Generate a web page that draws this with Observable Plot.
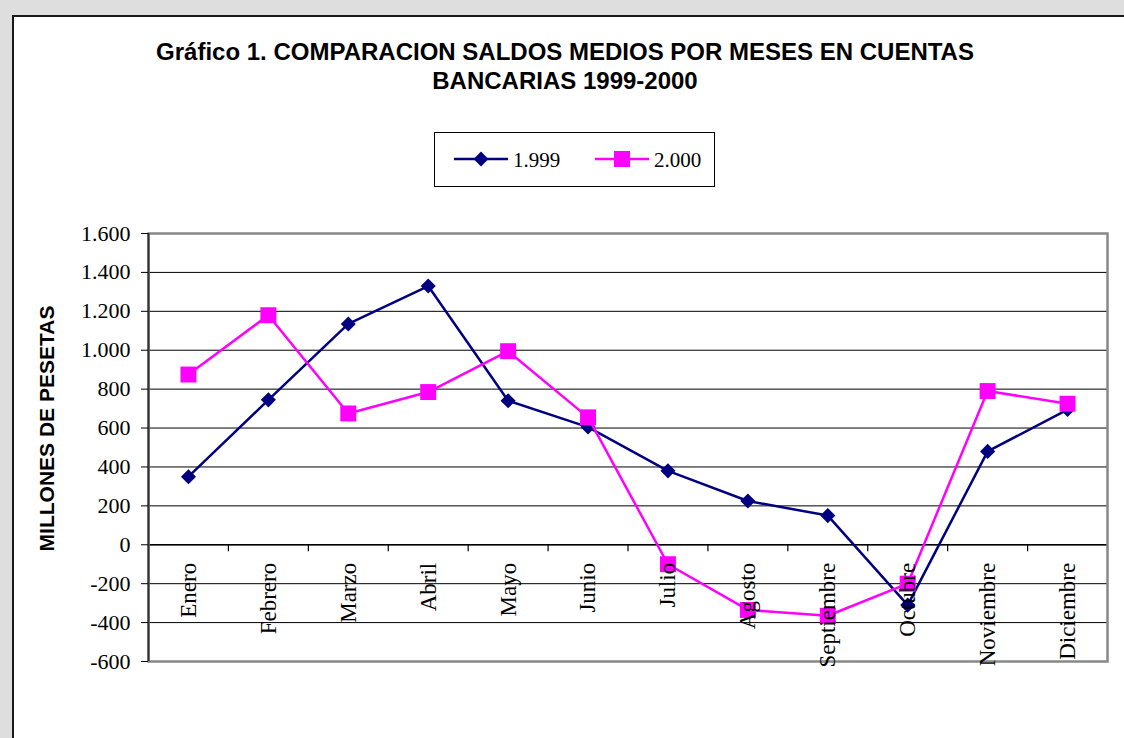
<!DOCTYPE html>
<html>
<head>
<meta charset="utf-8">
<script src="https://cdn.jsdelivr.net/npm/d3@7"></script>
<script src="https://cdn.jsdelivr.net/npm/@observablehq/plot@0.6"></script>
<style>
  html, body { margin: 0; padding: 0; width: 1124px; height: 738px; overflow: hidden; background: #dedede; }
  #frame { position: absolute; left: 12px; top: 15px; right: 0; bottom: 0; background: #fff;
           border-left: 2px solid #1a1a1a; border-top: 2px solid #1a1a1a; }
  #title { position: absolute; left: 0; width: 1130px; top: 37px; text-align: center;
           font-family: "Liberation Sans", Arial, sans-serif; font-weight: bold; font-size: 24px; line-height: 29px; color: #000; }
  #legend { position: absolute; left: 434px; top: 132px; width: 279px; height: 53px; border: 1px solid #000; background: #fff; }
  #legend svg { position: absolute; left: 0; top: 0; }
  #chart { position: absolute; left: 0; top: 200px; }
</style>
</head>
<body>
<div id="frame"></div>
<div id="title">Gráfico 1. COMPARACION SALDOS MEDIOS POR MESES EN CUENTAS<br>BANCARIAS 1999-2000</div>
<div id="legend"></div>
<div id="chart"></div>
<script>
// ---- data ----
const months = ["Enero","Febrero","Marzo","Abril","Mayo","Junio","Julio","Agosto","Septiembre","Octubre","Noviembre","Diciembre"];
const values1999 = [350, 745, 1135, 1330, 740, 605, 380, 225, 150, -310, 480, 695];
const values2000 = [875, 1180, 675, 785, 995, 655, -100, -335, -365, -200, 790, 725];
const seriesNames = ["1.999", "2.000"];
const seriesColors = ["#000080", "#ff00ff"];
const yTicks = [-600, -400, -200, 0, 200, 400, 600, 800, 1000, 1200, 1400, 1600];
const yTitle = "MILLONES DE PESETAS";

// ---- tables ----
const table1999 = months.map((m, i) => ({i, month: m, v: values1999[i]}));
const table2000 = months.map((m, i) => ({i, month: m, v: values2000[i]}));
const boundaries = d3.range(months.length + 1).map(k => k - 0.5);

const locale = d3.formatLocale({decimal: ",", thousands: ".", grouping: [3], currency: ["", ""], minus: "-"});
const fmt = locale.format(",d");

const serif = "Liberation Serif, Times New Roman, serif";
const sans = "Liberation Sans, Arial, sans-serif";

const chart = Plot.plot({
  width: 1124,
  height: 500,
  marginLeft: 148,
  marginRight: 17,
  marginTop: 33,
  marginBottom: 39,
  style: {background: "transparent", fontFamily: serif, fontSize: "22px", color: "#000", overflow: "visible"},
  x: {type: "linear", domain: [-0.5, months.length - 0.5], axis: null},
  y: {type: "linear", domain: [-600, 1600], axis: null},
  marks: [
    Plot.ruleY(yTicks, {stroke: "#000", strokeWidth: 1}),
    Plot.ruleY([0], {stroke: "#000", strokeWidth: 1.5}),
    Plot.ruleX(boundaries, {y1: 0, y2: 0, insetBottom: -7, stroke: "#000", strokeWidth: 1.2}),
    Plot.frame({stroke: "#888", strokeWidth: 2.5}),
    Plot.ruleX([-0.5], {stroke: "#333", strokeWidth: 2}),
    Plot.axisY({ticks: yTicks, tickFormat: fmt, tickSize: 7, tickPadding: 11, label: null,
                fontSize: 22, fontFamily: serif, stroke: "#000"}),
    Plot.line(table1999, {x: "i", y: "v", stroke: seriesColors[0], strokeWidth: 2.5}),
    Plot.dot(table1999, {x: "i", y: "v", symbol: "diamond2", r: 6.8, fill: seriesColors[0], stroke: "none"}),
    Plot.line(table2000, {x: "i", y: "v", stroke: seriesColors[1], strokeWidth: 2.5}),
    Plot.dot(table2000, {x: "i", y: "v", symbol: "square", r: 9, fill: seriesColors[1], stroke: "none"}),
    Plot.text(table1999, {x: "i", y: 0, text: "month", rotate: -90, textAnchor: "end", dy: 18,
                          fontSize: 23, fontFamily: serif, fill: "#000"}),
    Plot.text([yTitle], {frameAnchor: "left", textAnchor: "middle", rotate: -90, dx: -101, dy: -19,
                         fontFamily: sans, fontWeight: "bold", fontSize: 21, fill: "#000"})
  ]
});
document.getElementById("chart").appendChild(chart);

// ---- legend ----
const ns = "http://www.w3.org/2000/svg";
const lsvg = document.createElementNS(ns, "svg");
lsvg.setAttribute("width", 279);
lsvg.setAttribute("height", 53);
const items = [
  {name: seriesNames[0], color: seriesColors[0], sym: d3.symbol(d3.symbolDiamond2, 140)},
  {name: seriesNames[1], color: seriesColors[1], sym: d3.symbol(d3.symbolSquare, 256)}
];
items.forEach((it, k) => {
  const x0 = 19 + k * 141;
  const g = document.createElementNS(ns, "g");
  g.setAttribute("transform", `translate(${x0},26)`);
  const ln = document.createElementNS(ns, "line");
  ln.setAttribute("x1", 0); ln.setAttribute("x2", 54); ln.setAttribute("y1", 0); ln.setAttribute("y2", 0);
  ln.setAttribute("stroke", it.color); ln.setAttribute("stroke-width", 2.5);
  g.appendChild(ln);
  const p = document.createElementNS(ns, "path");
  p.setAttribute("d", it.sym());
  p.setAttribute("transform", "translate(27,0)");
  p.setAttribute("fill", it.color);
  g.appendChild(p);
  const t = document.createElementNS(ns, "text");
  t.setAttribute("x", 59); t.setAttribute("y", 7.5);
  t.setAttribute("font-family", serif); t.setAttribute("font-size", 21);
  t.textContent = it.name;
  g.appendChild(t);
  lsvg.appendChild(g);
});
document.getElementById("legend").appendChild(lsvg);
</script>
</body>
</html>
